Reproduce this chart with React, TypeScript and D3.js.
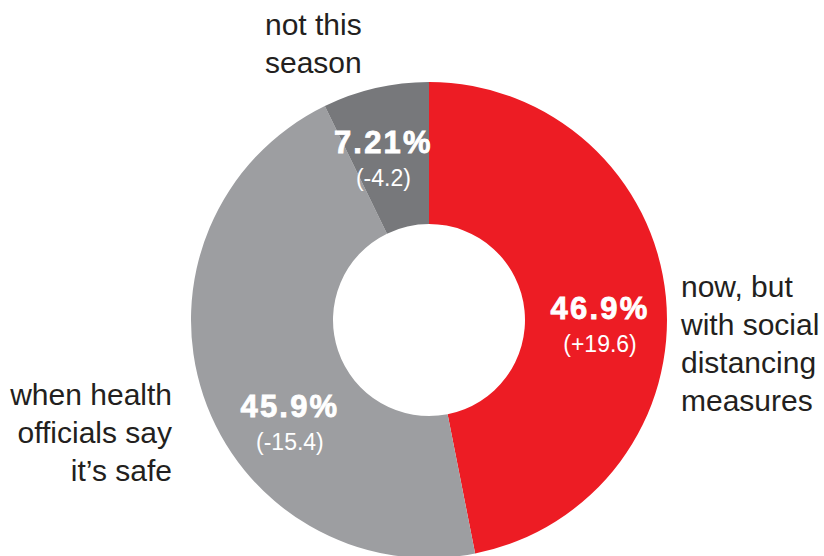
import React from "react";
import * as d3 from "d3";

const categories = ["now, but with social distancing measures", "when health officials say it’s safe", "not this season"];
const values = [46.9, 45.9, 7.21];
const valueLabels = ["46.9%", "45.9%", "7.21%"];
const changeLabels = ["(+19.6)", "(-15.4)", "(-4.2)"];
const colors = ["#ED1C24", "#9D9EA1", "#77787B"];
const labelLines = [
  ["now, but", "with social", "distancing", "measures"],
  ["when health", "officials say", "it’s safe"],
  ["not this", "season"],
];
// label angle tweak (degrees) relative to slice mid-angle
const labelAngleShift = [6, -17, -2.5];

const W = 824, H = 556;
const cx = 429, cy = 320, R = 238, r0 = 96, rLabel = 171;

export default function App() {
  const pie = d3.pie<number>().sort(null).value((d) => d);
  const arcs = pie(values);
  const arc = d3.arc<d3.PieArcDatum<number>>().innerRadius(r0).outerRadius(R);
  const font = "'Liberation Sans', Arial, Helvetica, sans-serif";
  return (
    <svg width={W} height={H} style={{ position: "absolute", left: 0, top: 0 }}>
      <g transform={`translate(${cx},${cy})`}>
        {arcs.map((a, i) => (
          <path key={i} d={arc(a) || ""} fill={colors[i]} />
        ))}
        {arcs.map((a, i) => {
          const mid = (a.startAngle + a.endAngle) / 2 + (labelAngleShift[i] * Math.PI) / 180;
          const x = rLabel * Math.sin(mid);
          const y = -rLabel * Math.cos(mid);
          return (
            <g key={"l" + i} transform={`translate(${x},${y})`} fill="#fff" textAnchor="middle" fontFamily={font}>
              <text y={-2} fontSize={31} fontWeight="bold" letterSpacing={2.2} stroke="#fff" strokeWidth={0.8}>{valueLabels[i]}</text>
              <text y={31} fontSize={23}>{changeLabels[i]}</text>
            </g>
          );
        })}
      </g>
      <g fontFamily={font} fontSize={30} fill="#231f20">
        <text x={681} y={297}>
          {labelLines[0].map((t, j) => (
            <tspan key={j} x={681} dy={j === 0 ? 0 : 38}>{t}</tspan>
          ))}
        </text>
        <text x={172} y={405} textAnchor="end">
          {labelLines[1].map((t, j) => (
            <tspan key={j} x={172} dy={j === 0 ? 0 : 38}>{t}</tspan>
          ))}
        </text>
        <text x={265} y={35}>
          {labelLines[2].map((t, j) => (
            <tspan key={j} x={265} dy={j === 0 ? 0 : 38}>{t}</tspan>
          ))}
        </text>
      </g>
    </svg>
  );
}
